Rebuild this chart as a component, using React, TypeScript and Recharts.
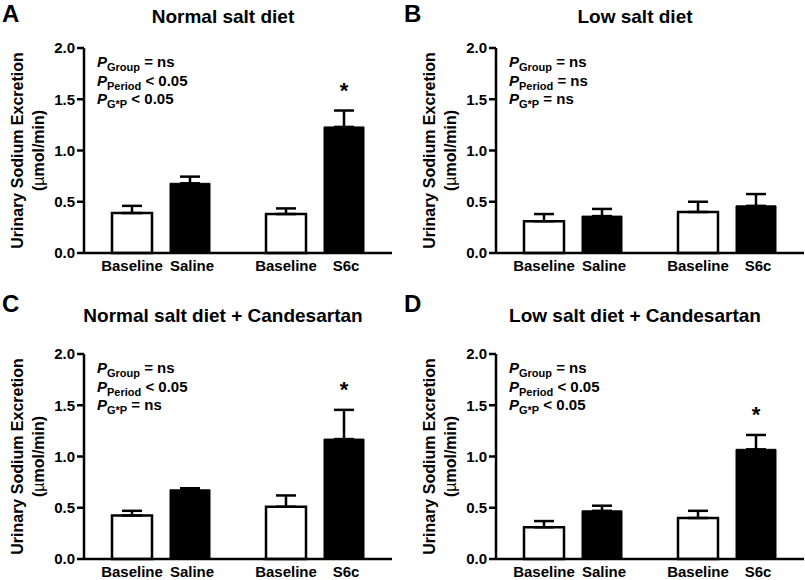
import React from 'react';
import { BarChart, Bar, XAxis, YAxis, ErrorBar, LabelList } from 'recharts';

const FONT = '"Liberation Sans", Arial, Helvetica, sans-serif';

// categories: one per pair of bars, the name is the treatment under the black bar
const groups = ['Saline', 'S6c'];
const yTicks = [0, 0.5, 1.0, 1.5, 2.0];

const letters = ['A', 'B', 'C', 'D'];
const titles = [
  'Normal salt diet',
  'Low salt diet',
  'Normal salt diet + Candesartan',
  'Low salt diet + Candesartan',
];

// mean and SEM (upper arm only): [Saline pair, S6c pair]
const baselineA = [0.39, 0.38];
const baselineErrA = [0.07, 0.055];
const treatedA = [0.68, 1.23];
const treatedErrA = [0.065, 0.16];

const baselineB = [0.31, 0.4];
const baselineErrB = [0.07, 0.1];
const treatedB = [0.36, 0.46];
const treatedErrB = [0.07, 0.115];

const baselineC = [0.425, 0.51];
const baselineErrC = [0.045, 0.11];
const treatedC = [0.675, 1.17];
const treatedErrC = [0.015, 0.285];

const baselineD = [0.31, 0.4];
const baselineErrD = [0.06, 0.07];
const treatedD = [0.47, 1.07];
const treatedErrD = [0.05, 0.14];

const sigA = [false, true];
const sigB = [false, false];
const sigC = [false, true];
const sigD = [false, true];

const pGroup = ['= ns', '= ns', '= ns', '= ns'];
const pPeriod = ['< 0.05', '= ns', '< 0.05', '< 0.05'];
const pGxP = ['< 0.05', '= ns', '= ns', '< 0.05'];

const panels = [
  { base: baselineA, baseErr: baselineErrA, treat: treatedA, treatErr: treatedErrA, sig: sigA },
  { base: baselineB, baseErr: baselineErrB, treat: treatedB, treatErr: treatedErrB, sig: sigB },
  { base: baselineC, baseErr: baselineErrC, treat: treatedC, treatErr: treatedErrC, sig: sigC },
  { base: baselineD, baseErr: baselineErrD, treat: treatedD, treatErr: treatedErrD, sig: sigD },
];

// page layout: plot origin (top-left of the 0..2 area) and header positions
const frames = [
  { ox: 84, oy: 48, letterX: 2, letterY: 22, titleY: 23 },
  { ox: 496, oy: 48, letterX: 404, letterY: 22, titleY: 23 },
  { ox: 84, oy: 354, letterX: 2, letterY: 312, titleY: 322 },
  { ox: 496, oy: 354, letterX: 404, letterY: 312, titleY: 322 },
];

const AXIS_W = 96;
const PLOT_W = 308;
const PLOT_H = 205;
const CHART_W = AXIS_W + PLOT_W + 1;
const CHART_H = 290;
const TOP = 48;

const GroupTick = (props: any) => {
  const { x, y, payload } = props;
  const style = { fontFamily: FONT, fontSize: 15, fontWeight: 700 };
  return (
    <g>
      <text x={x - 29} y={y + 9.5} textAnchor="middle" fill="#000" style={style}>
        Baseline
      </text>
      <text x={x + 31} y={y + 9.5} textAnchor="middle" fill="#000" style={style}>
        {payload.value}
      </text>
    </g>
  );
};

function Panel({ idx }: { idx: number }) {
  const p = panels[idx];
  const f = frames[idx];
  const data = groups.map((g, i) => ({
    group: g,
    base: p.base[i],
    baseErr: [0, p.baseErr[i]],
    treat: p.treat[i],
    treatErr: [0, p.treatErr[i]],
    star: p.sig[i] ? '*' : '',
  }));

  const renderStar = (lp: any) => {
    const i = lp.index;
    if (i == null || !p.sig[i]) return null;
    const pxPerUnit = lp.height / p.treat[i];
    const capY = lp.y - p.treatErr[i] * pxPerUnit;
    return (
      <text
        x={lp.x + lp.width / 2}
        y={capY - 13}
        textAnchor="middle"
        fill="#000"
        style={{ fontFamily: FONT, fontSize: 22, fontWeight: 700 }}
      >
        *
      </text>
    );
  };

  return (
    <div style={{ position: 'absolute', left: f.ox - AXIS_W, top: f.oy - TOP }}>
      <BarChart
        width={CHART_W}
        height={CHART_H}
        data={data}
        margin={{ top: TOP, right: 1, bottom: 0, left: 0 }}
        barSize={40}
        barGap={18}
      >
        <XAxis
          dataKey="group"
          height={CHART_H - TOP - PLOT_H}
          axisLine={{ stroke: '#000', strokeWidth: 2.5 }}
          tickLine={false}
          tick={<GroupTick />}
          interval={0}
        />
        <YAxis
          width={AXIS_W}
          domain={[0, 2]}
          ticks={yTicks}
          interval={0}
          tickFormatter={(v: number) => v.toFixed(1)}
          axisLine={{ stroke: '#000', strokeWidth: 2.5 }}
          tickLine={{ stroke: '#000', strokeWidth: 2.5 }}
          tickSize={7}
          tickMargin={2}
          tick={{ fill: '#000', fontSize: 15, fontWeight: 700, fontFamily: FONT }}
        />
        <Bar dataKey="base" fill="#fff" stroke="#000" strokeWidth={2.5} isAnimationActive={false}>
          <ErrorBar dataKey="baseErr" width={10} stroke="#000" strokeWidth={2.5} isAnimationActive={false} />
        </Bar>
        <Bar dataKey="treat" fill="#000" stroke="#000" strokeWidth={1} isAnimationActive={false}>
          <ErrorBar dataKey="treatErr" width={10} stroke="#000" strokeWidth={2.5} isAnimationActive={false} />
          <LabelList dataKey="star" content={renderStar} />
        </Bar>
      </BarChart>
    </div>
  );
}

function Headers() {
  const bold = { fontFamily: FONT, fontWeight: 700 } as const;
  return (
    <svg
      width={805}
      height={580}
      style={{ position: 'absolute', left: 0, top: 0, pointerEvents: 'none' }}
    >
      {frames.map((f, i) => {
        const midY = f.oy + PLOT_H / 2;
        return (
          <g key={i} fill="#000">
            <text x={f.letterX} y={f.letterY} style={{ ...bold, fontSize: 24 }}>
              {letters[i]}
            </text>
            <text x={f.ox + 139} y={f.titleY} textAnchor="middle" style={{ ...bold, fontSize: 19 }}>
              {titles[i]}
            </text>
            <text
              transform={`translate(${f.ox - 61}, ${midY}) rotate(-90)`}
              textAnchor="middle"
              style={{ ...bold, fontSize: 16 }}
            >
              Urinary Sodium Excretion
            </text>
            <text
              transform={`translate(${f.ox - 40}, ${midY}) rotate(-90)`}
              textAnchor="middle"
              style={{ ...bold, fontSize: 16 }}
            >
              (<tspan fontWeight={400}>µ</tspan>mol/min)
            </text>
            {[
              ['Group', pGroup[i]],
              ['Period', pPeriod[i]],
              ['G*P', pGxP[i]],
            ].map(([sub, val], k) => (
              <text key={k} x={f.ox + 13} y={f.oy + 19 + k * 18.5} style={{ ...bold, fontSize: 15 }}>
                <tspan fontStyle="italic">P</tspan>
                <tspan fontSize={11} dy={4}>
                  {sub}
                </tspan>
                <tspan dy={-4}>{' ' + val}</tspan>
              </text>
            ))}
          </g>
        );
      })}
    </svg>
  );
}

export default function App() {
  return (
    <div
      style={{
        position: 'absolute',
        left: 0,
        top: 0,
        width: 805,
        height: 580,
        overflow: 'hidden',
        background: '#fff',
      }}
    >
      {panels.map((_, i) => (
        <Panel key={i} idx={i} />
      ))}
      <Headers />
    </div>
  );
}
